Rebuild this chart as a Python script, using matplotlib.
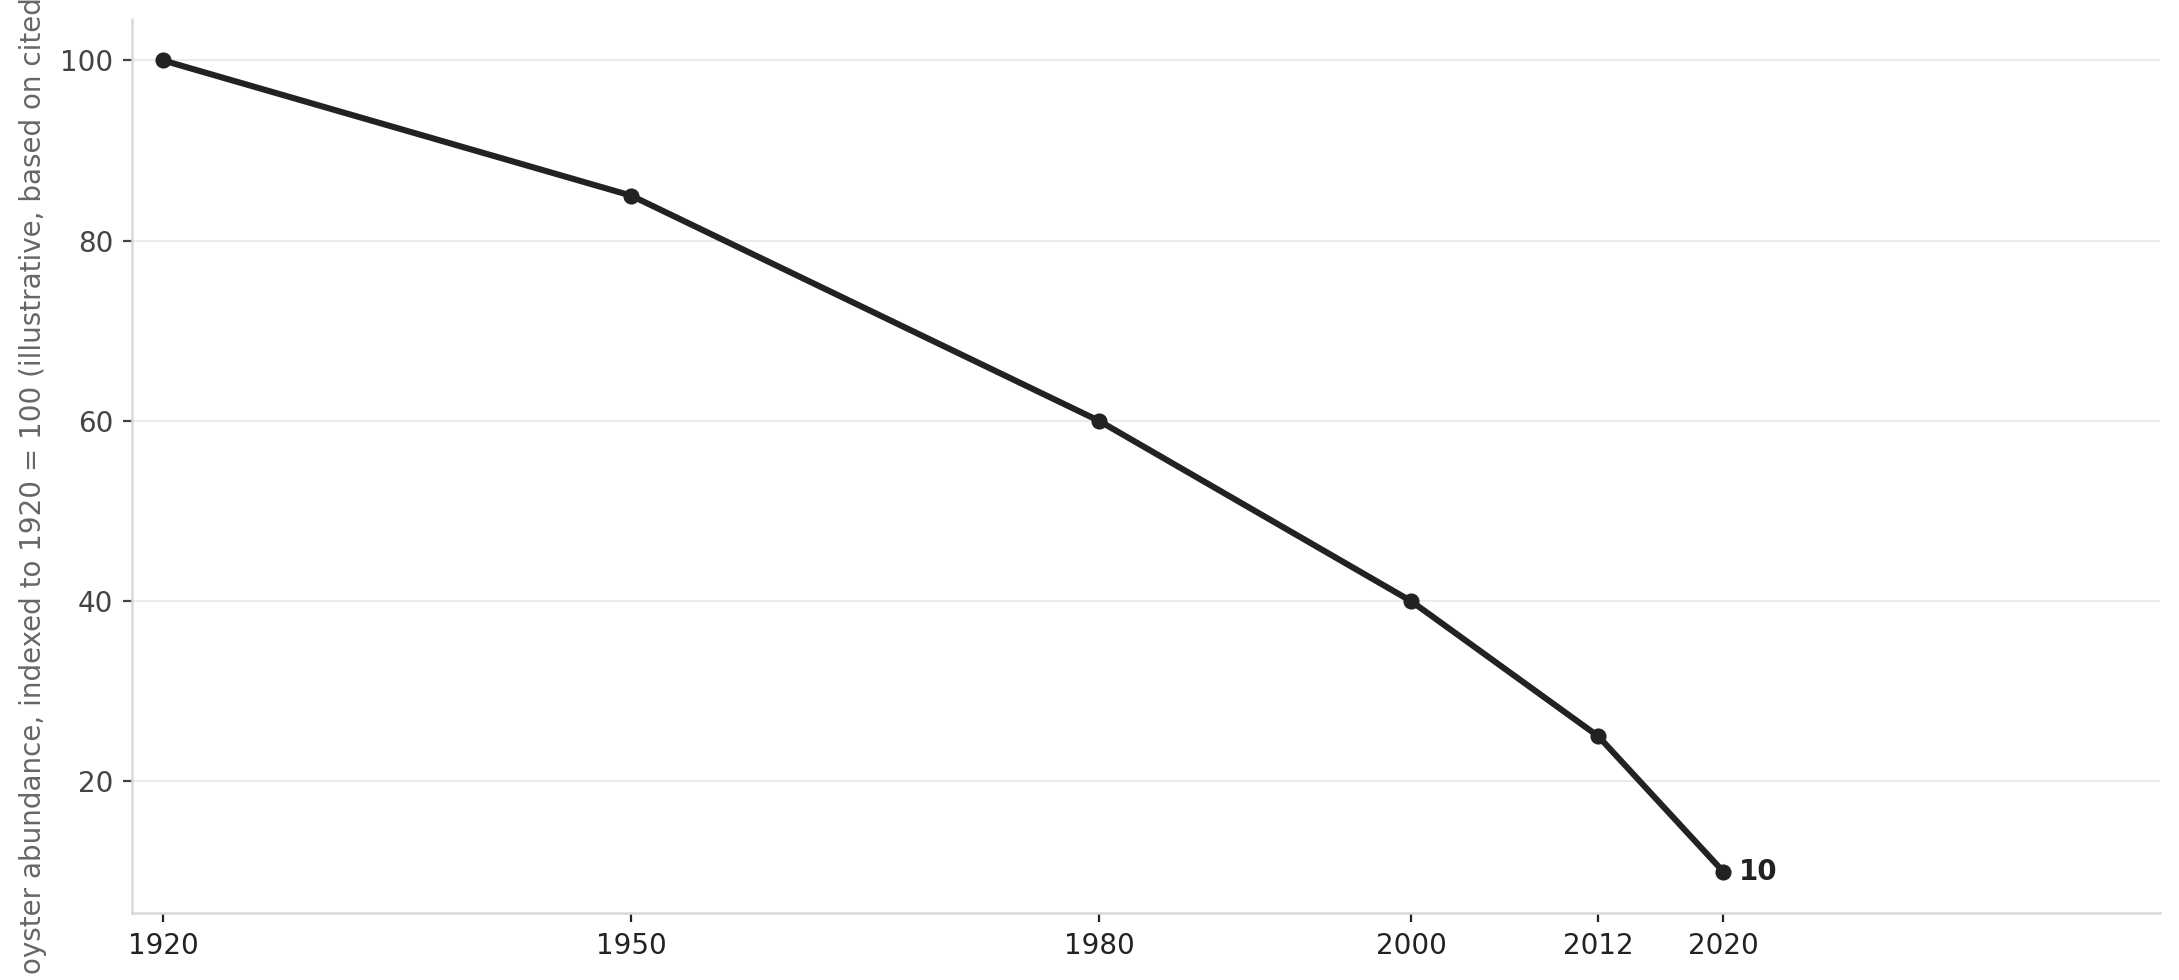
import matplotlib
matplotlib.use("Agg")
import matplotlib.pyplot as plt

years = [1920, 1950, 1980, 2000, 2012, 2020]
abundance = [100, 85, 60, 40, 25, 10]
x_ticks = [1920, 1950, 1980, 2000, 2012, 2020]
y_ticks = [20, 40, 60, 80, 100]
y_label = "oyster abundance, indexed to 1920 = 100 (illustrative, based on cited estimates)"

DPI = 200
fig = plt.figure(figsize=(2179 / DPI, 980 / DPI), dpi=DPI)
ax = fig.add_axes([132 / 2179, 67 / 980, (2160 - 132) / 2179, (913 - 19) / 980])

ax.plot(years, abundance, color="#222222", lw=2.2, marker="o", ms=4.8, zorder=3)
ax.annotate(f"{abundance[-1]}", (years[-1], abundance[-1]), xytext=(5.5, 0),
            textcoords="offset points", ha="left", va="center",
            fontsize=10, fontweight="bold", color="#222222")

ax.set_xlim(1918, 2048)
ax.set_ylim(5.4, 104.6)
ax.set_xticks(x_ticks)
ax.set_yticks(y_ticks)
ax.tick_params(axis="x", labelsize=10, labelcolor="#222222", color="#222222", length=3.2, width=0.8)
ax.tick_params(axis="y", labelsize=10, labelcolor="#444444", color="#444444", length=3.2, width=0.8)

ax.grid(axis="y", color="#ebebeb", lw=0.7)
ax.set_axisbelow(True)
for s in ["top", "right"]:
    ax.spines[s].set_visible(False)
for s in ["left", "bottom"]:
    ax.spines[s].set_color("#d9d9d9")
    ax.spines[s].set_linewidth(0.9)

ax.set_ylabel(y_label, fontsize=10, color="#666666")
lab = ax.yaxis.label
lab.set_horizontalalignment("left")
lab.set_rotation_mode("anchor")
ax.yaxis.set_label_coords(-0.042, (913 - 974) / 894)

fig.savefig("out.png", dpi=DPI, facecolor="white")
